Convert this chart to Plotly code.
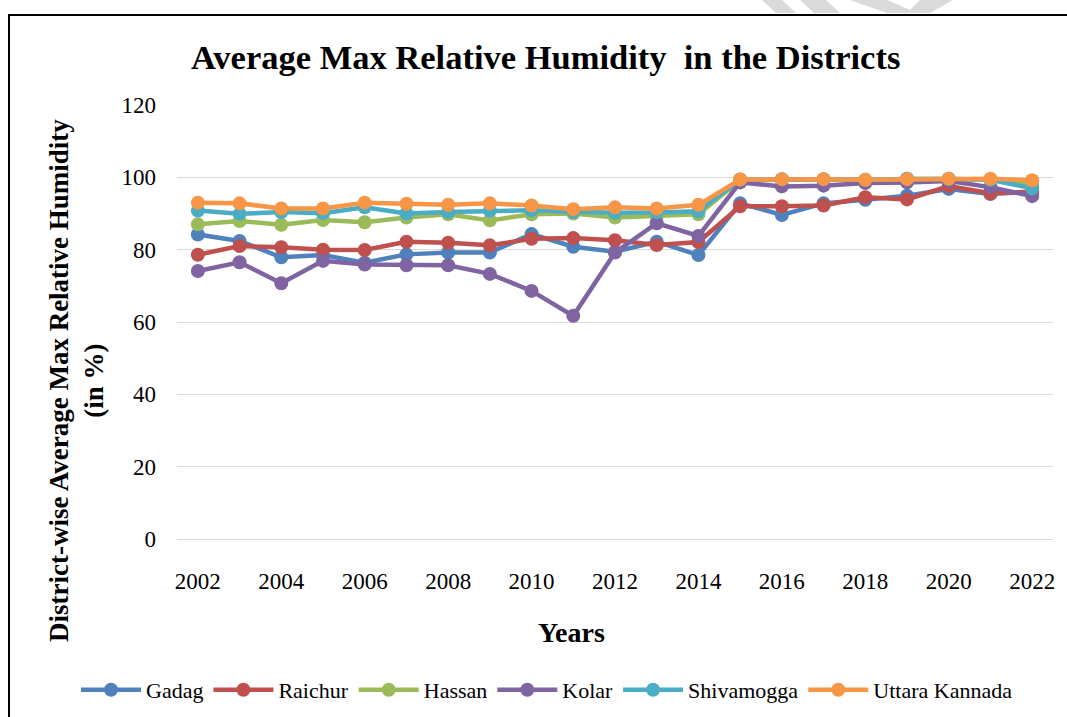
import plotly.graph_objects as go

years = list(range(2002, 2023))
year_labels = [str(y) for y in years]

gadag = [84.2, 82.4, 77.9, 78.5, 76.4, 78.7, 79.2, 79.2, 84.3, 80.8, 79.4, 82.2, 78.5,
         92.8, 89.6, 92.8, 93.8, 94.9, 96.8, 95.4, 96.0]
raichur = [78.6, 81.0, 80.7, 80.0, 79.9, 82.2, 81.9, 81.2, 83.0, 83.2, 82.6, 81.3, 82.1,
           92.0, 92.0, 92.2, 94.5, 93.9, 97.6, 95.6, 96.0]
hassan = [87.0, 87.9, 86.9, 88.2, 87.6, 88.9, 89.8, 88.1, 89.8, 90.0, 88.9, 89.2, 89.8,
          99.2, 99.4, 99.4, 99.2, 99.6, 99.5, 99.3, 98.0]
kolar = [74.1, 76.5, 70.7, 76.9, 75.9, 75.7, 75.7, 73.3, 68.6, 61.7, 79.2, 87.3, 83.8,
         98.6, 97.5, 97.7, 98.4, 98.6, 99.0, 97.3, 94.8]
shivamogga = [90.8, 89.9, 90.4, 90.1, 91.7, 90.0, 90.4, 90.8, 90.9, 90.5, 90.2, 90.3, 90.6,
              99.4, 99.5, 99.5, 99.3, 99.6, 99.6, 99.3, 97.0]
uttara = [93.0, 92.8, 91.4, 91.4, 93.0, 92.7, 92.4, 92.8, 92.2, 91.2, 91.7, 91.4, 92.4,
          99.4, 99.5, 99.5, 99.3, 99.5, 99.6, 99.6, 99.2]

series = [
    ("Gadag", gadag, "#4F81BD"),
    ("Raichur", raichur, "#C0504D"),
    ("Hassan", hassan, "#9BBB59"),
    ("Kolar", kolar, "#8064A2"),
    ("Shivamogga", shivamogga, "#4BACC6"),
    ("Uttara Kannada", uttara, "#F79646"),
]

W, H = 1067, 717
L, R, T, B = 177, 14, 105, 178
PW, PH = W - L - R, H - T - B


def px(x, y):
    return (x - L) / PW, (H - B - y) / PH


fig = go.Figure()
for name, vals, col in series:
    fig.add_trace(go.Scatter(
        x=year_labels, y=vals, name=name, mode="lines+markers",
        line=dict(color=col, width=4.5),
        marker=dict(color=col, size=14, symbol="circle"),
    ))

font = "Liberation Serif"

shapes = []
x0, y0 = px(9, 15)
x1, y1 = px(1090, 760)
shapes.append(dict(type="rect", xref="paper", yref="paper", x0=x0, y0=y1, x1=x1, y1=y0,
                   line=dict(color="black", width=2), fillcolor="rgba(0,0,0,0)", layer="above"))
for poly in [
    [(762, 0), (782, 0), (796, 13), (776, 13)],
    [(800, 0), (826, 0), (840, 13), (814, 13)],
    [(850, 0), (887, 0), (917, 13), (887, 13)],
    [(920, 0), (953, 0), (930, 13), (907, 13)],
]:
    pts = [px(a, b) for a, b in poly]
    path = "M " + " L ".join(f"{p[0]},{p[1]}" for p in pts) + " Z"
    shapes.append(dict(type="path", xref="paper", yref="paper", path=path,
                       fillcolor="#dadada", line=dict(width=0), layer="below"))

ax_x, ax_y = px(76, 381)
yr_x, yr_y = px(571, 632)
ti_x, ti_y = px(545, 57)

fig.update_layout(
    width=W, height=H,
    margin=dict(l=L, r=R, t=T, b=B, autoexpand=False),
    paper_bgcolor="white", plot_bgcolor="white",
    font=dict(family=font, size=23, color="black"),
    showlegend=True,
    legend=dict(orientation="h", x=px(76, 0)[0], xanchor="left", y=px(0, 690)[1], yanchor="middle",
                font=dict(family=font, size=22, color="black"), itemwidth=60,
                traceorder="normal", tracegroupgap=0),
    xaxis=dict(type="category", tickmode="array", tickvals=year_labels[::2],
               ticktext=year_labels[::2], showgrid=False, showline=False, ticks="",
               tickfont=dict(family=font, size=23), zeroline=False,
               range=[-0.5, len(years) - 0.5], ticklabelstandoff=26),
    yaxis=dict(range=[0, 120], dtick=20, showgrid=True, gridcolor="#D9D9D9", gridwidth=1,
               showline=False, ticks="", tickfont=dict(family=font, size=23),
               zeroline=True, zerolinecolor="#D9D9D9", zerolinewidth=1, ticklabelstandoff=20),
    shapes=shapes,
    annotations=[
        dict(text="<b>Average Max Relative Humidity  in the Districts</b>", xref="paper", yref="paper",
             x=ti_x, y=ti_y, showarrow=False, xanchor="center", yanchor="middle",
             font=dict(family=font, size=34.5, color="black")),
        dict(text="<b>District-wise Average Max Relative Humidity<br>(in %)</b>", xref="paper",
             yref="paper", x=ax_x, y=ax_y, showarrow=False, textangle=-90,
             xanchor="center", yanchor="middle",
             font=dict(family=font, size=27, color="black")),
        dict(text="<b>Years</b>", xref="paper", yref="paper", x=yr_x, y=yr_y, showarrow=False,
             xanchor="center", yanchor="middle", font=dict(family=font, size=28, color="black")),
    ],
)

fig.write_html("out.html", config={"displayModeBar": False},
               post_script="document.body.style.margin='0px';document.body.style.overflow='hidden';")
